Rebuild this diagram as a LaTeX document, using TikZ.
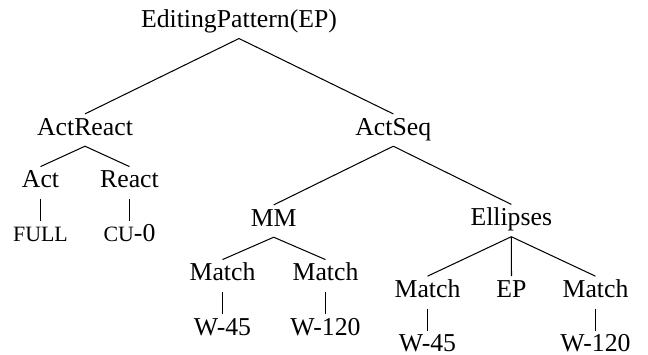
\documentclass[tikz,border=0pt]{standalone}
\usepackage{fontspec}
\setmainfont{Liberation Serif}
\newcommand\fakesc[1]{{\fontsize{8.5pt}{10pt}\selectfont #1}}

\begin{document}
\begin{tikzpicture}[
  x=0.3883pt,y=-0.3883pt,
  font=\fontsize{10pt}{12pt}\selectfont,
  cat/.style={anchor=base,inner xsep=1pt,inner ysep=1.5pt,text height=6.5pt,text depth=2.65pt},
  branch/.style={line width=0.4pt,black},
]
\useasboundingbox (0,0) rectangle (648,354);
% top levels
\node[cat] (ep) at (239,27.3) {EditingPattern(EP)};
\node[cat] (actreact) at (85,135) {ActReact};
\node[cat] (actseq) at (393.3,135) {ActSeq};
% left branch
\node[cat] (act) at (40.5,187.7) {Act};
\node[cat] (react) at (129.5,187.7) {React};
\node[cat] (full) at (40.5,241.7) {\fakesc{FULL}};
\node[cat] (cu) at (129.5,241.7) {\fakesc{CU}-0};
% right branch
\node[cat] (mm) at (273.7,226) {MM};
\node[cat] (ell) at (511.3,225.5) {Ellipses};
\node[cat] (mmatch1) at (222.5,280.7) {Match};
\node[cat] (mmatch2) at (325.5,280.7) {Match};
\node[cat] (mw1) at (222.5,335) {W-45};
\node[cat] (mw2) at (325.5,335) {W-120};
\node[cat] (ematch1) at (427.5,297.3) {Match};
\node[cat] (eep) at (511.5,297.3) {EP};
\node[cat] (ematch2) at (595.5,297.3) {Match};
\node[cat] (ew1) at (427.5,351.7) {W-45};
\node[cat] (ew2) at (595.5,351.7) {W-120};
% branches
\draw[branch] (ep.south) -- (actreact.north);
\draw[branch] (ep.south) -- (actseq.north);
\draw[branch] (actreact.south) -- (act.north);
\draw[branch] (actreact.south) -- (react.north);
\draw[branch] (act.south) -- (full.north);
\draw[branch] (react.south) -- (cu.north);
\draw[branch] (actseq.south) -- (mm.north);
\draw[branch] (actseq.south) -- (ell.north);
\draw[branch] (mm.south) -- (mmatch1.north);
\draw[branch] (mm.south) -- (mmatch2.north);
\draw[branch] (mmatch1.south) -- (mw1.north);
\draw[branch] (mmatch2.south) -- (mw2.north);
\draw[branch] (ell.south) -- (ematch1.north);
\draw[branch] (ell.south) -- (eep.north);
\draw[branch] (ell.south) -- (ematch2.north);
\draw[branch] (ematch1.south) -- (ew1.north);
\draw[branch] (ematch2.south) -- (ew2.north);
\end{tikzpicture}
\end{document}
